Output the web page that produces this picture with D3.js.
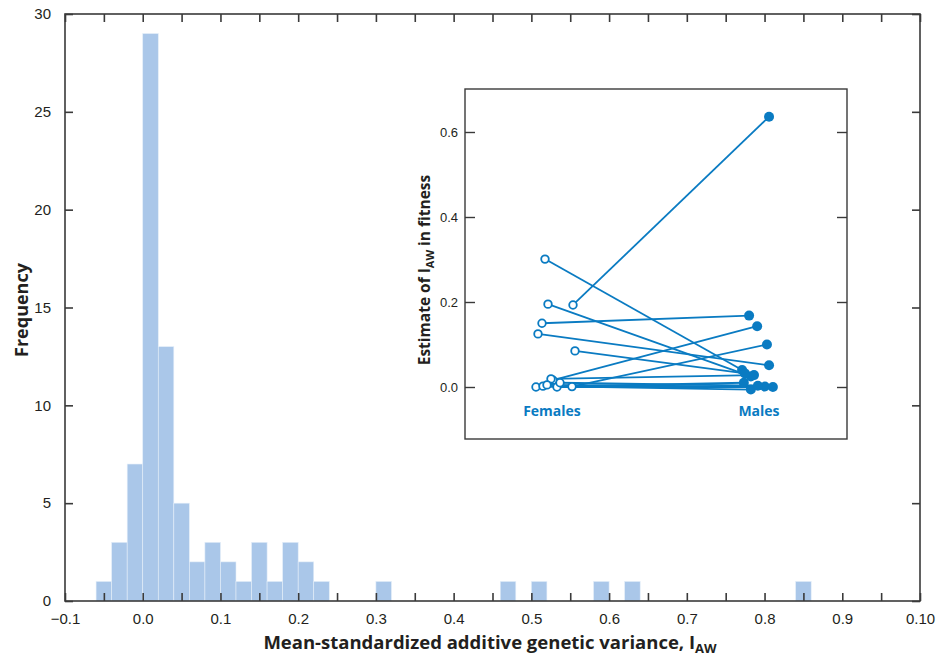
<!DOCTYPE html>
<html><head><meta charset="utf-8">
<script src="https://cdn.jsdelivr.net/npm/d3@7"></script>
<style>
body{margin:0;background:#fff;}
svg{display:block;font-family:"Open Sans","Noto Sans",sans-serif;}
</style></head><body>
<svg id="chart" width="940" height="656"></svg>
<script>
// ---- Data ----
const binStarts = [-0.06,-0.04,-0.02,0.00,0.02,0.04,0.06,0.08,0.10,0.12,0.14,0.16,0.18,0.20,0.22,0.30,0.46,0.50,0.58,0.62,0.84];
const binCounts = [1,3,7,29,13,5,2,3,2,1,3,1,3,2,1,1,1,1,1,1,1];
const binWidth = 0.02;
const xMajorTicks = [-0.1,0.0,0.1,0.2,0.3,0.4,0.5,0.6,0.7,0.8,0.9,1.0];
const xTickLabels = ["\u22120.1","0.0","0.1","0.2","0.3","0.4","0.5","0.6","0.7","0.8","0.9","0.10"];
const xMinorTicks = [-0.05,0.05,0.15,0.25,0.35,0.45,0.55,0.65,0.75,0.85,0.95];
const yTicks = [0,5,10,15,20,25,30];

// inset: female (x jitter, value) -> male (x jitter, value)
const femaleJitter = [0.30,0.86,0.36,0.24,0.16,0.90,0.46,0.84,0.42,0.12,0.26,0.34,0.54,0.60];
const femaleValues = [0.301,0.193,0.195,0.150,0.125,0.085,0.016,0.001,0.019,0.000,0.002,0.005,0.000,0.010];
const maleJitter   = [0.06,0.83,0.31,0.26,0.83,0.14,0.49,0.77,0.40,0.11,0.31,0.71,0.94,0.51];
const maleValues   = [0.040,0.636,0.025,0.168,0.051,0.032,0.143,0.100,0.028,0.010,-0.006,0.001,0.000,0.003];
const insetTicks = [0.0,0.2,0.4,0.6];
const insetTickLabels = ["0.0","0.2","0.4","0.6"];
const groupLabels = ["Females","Males"];

// ---- Layout ----
const svg = d3.select("#chart");
const axisColor = "#3a3a3a";
const textColor = "#231f20";
const barColor = "#aac7e9";
const blue = "#0a7bc2";

const L = 65, R = 920, T = 14, B = 601;
const x = d3.scaleLinear().domain([-0.1,1.0]).range([L,R]);
const y = d3.scaleLinear().domain([0,30]).range([B,T]);

// bars
svg.append("g").selectAll("rect").data(binStarts).join("rect")
  .attr("x", d => x(d))
  .attr("width", d => x(d+binWidth)-x(d))
  .attr("y", (d,i) => y(binCounts[i]))
  .attr("height", (d,i) => y(0)-y(binCounts[i]))
  .attr("fill", barColor)
  .attr("stroke", "#e4eef9").attr("stroke-width", 0.6);

// frame
svg.append("rect").attr("x",L).attr("y",T).attr("width",R-L).attr("height",B-T)
  .attr("fill","none").attr("stroke",axisColor).attr("stroke-width",1.6);

const allXTicks = xMajorTicks.concat(xMinorTicks).sort((a,b)=>a-b);
const labelFor = v => { const i = xMajorTicks.findIndex(t => Math.abs(t-v)<1e-9); return i>=0 ? xTickLabels[i] : ""; };

function styleAxis(g){
  g.select(".domain").remove();
  g.selectAll(".tick line").attr("stroke",axisColor).attr("stroke-width",1.6);
  g.selectAll(".tick text").attr("fill",textColor).style("font-size","15px");
  g.selectAll(".tick text").filter(function(){ return this.textContent === ""; }).remove();
}
svg.append("g").attr("transform",`translate(0,${B})`)
  .call(d3.axisBottom(x).tickValues(allXTicks).tickSize(-8).tickPadding(12).tickFormat(labelFor))
  .call(styleAxis);
svg.append("g").attr("transform",`translate(0,${T})`)
  .call(d3.axisTop(x).tickValues(allXTicks).tickSize(-8).tickFormat(""))
  .call(styleAxis);
svg.append("g").attr("transform",`translate(${L},0)`)
  .call(d3.axisLeft(y).tickValues(yTicks).tickSize(-8).tickPadding(14).tickFormat(d3.format("d")))
  .call(styleAxis);
svg.append("g").attr("transform",`translate(${R},0)`)
  .call(d3.axisRight(y).tickValues(yTicks).tickSize(-8).tickFormat(""))
  .call(styleAxis);

// axis titles
const xt = svg.append("text").attr("x",490).attr("y",649).attr("text-anchor","middle")
  .attr("fill",textColor).style("font-size","18.5px").style("font-weight","bold");
xt.append("tspan").text("Mean-standardized additive genetic variance, I");
xt.append("tspan").attr("dy",4).style("font-size","13px").text("AW");

svg.append("text").attr("transform","translate(28,310) rotate(-90)").attr("text-anchor","middle")
  .attr("fill",textColor).style("font-size","18px").style("font-weight","bold").text("Frequency");

// ---- Inset ----
const iL = 465, iR = 847, iT = 89, iB = 439;
const iy = d3.scaleLinear().domain([0,0.6]).range([387,132]);
const femaleX = d3.scaleLinear().domain([0,1]).range([530,580]);
const maleX = d3.scaleLinear().domain([0,1]).range([740,775]);

svg.append("rect").attr("x",iL).attr("y",iT).attr("width",iR-iL).attr("height",iB-iT)
  .attr("fill","#fff").attr("stroke",axisColor).attr("stroke-width",1.4);

function styleInset(g){
  g.select(".domain").remove();
  g.selectAll(".tick line").attr("stroke",axisColor).attr("stroke-width",1.4);
  g.selectAll(".tick text").attr("fill",textColor).style("font-size","13px");
  g.selectAll(".tick text").filter(function(){ return this.textContent === ""; }).remove();
}
svg.append("g").attr("transform",`translate(${iL},0)`)
  .call(d3.axisLeft(iy).tickValues(insetTicks).tickSize(-10).tickPadding(7).tickFormat((d,i)=>insetTickLabels[i]))
  .call(styleInset);
svg.append("g").attr("transform",`translate(${iR},0)`)
  .call(d3.axisRight(iy).tickValues(insetTicks).tickSize(-10).tickFormat(""))
  .call(styleInset);

const pairs = femaleValues.map((v,i)=>({fx:femaleX(femaleJitter[i]), fy:iy(v), mx:maleX(maleJitter[i]), my:iy(maleValues[i])}));
const gi = svg.append("g");
gi.selectAll("line").data(pairs).join("line")
  .attr("x1",d=>d.fx).attr("y1",d=>d.fy).attr("x2",d=>d.mx).attr("y2",d=>d.my)
  .attr("stroke",blue).attr("stroke-width",1.8);
gi.selectAll("circle.f").data(pairs).join("circle").attr("class","f")
  .attr("cx",d=>d.fx).attr("cy",d=>d.fy).attr("r",3.8)
  .attr("fill","#fff").attr("stroke",blue).attr("stroke-width",1.8);
gi.selectAll("circle.m").data(pairs).join("circle").attr("class","m")
  .attr("cx",d=>d.mx).attr("cy",d=>d.my).attr("r",5)
  .attr("fill",blue);

svg.append("text").attr("x",552).attr("y",416).attr("text-anchor","middle").attr("fill",blue)
  .style("font-size","14px").style("font-weight","bold").text(groupLabels[0]);
svg.append("text").attr("x",759).attr("y",416).attr("text-anchor","middle").attr("fill",blue)
  .style("font-size","14px").style("font-weight","bold").text(groupLabels[1]);

const yl = svg.append("text").attr("transform","translate(430,270) rotate(-90)").attr("text-anchor","middle")
  .attr("fill",textColor).style("font-size","15.5px").style("font-weight","bold");
yl.append("tspan").text("Estimate of I");
yl.append("tspan").attr("dy",4).style("font-size","11px").text("AW");
yl.append("tspan").attr("dy",-4).text(" in fitness");
</script>
</body></html>
